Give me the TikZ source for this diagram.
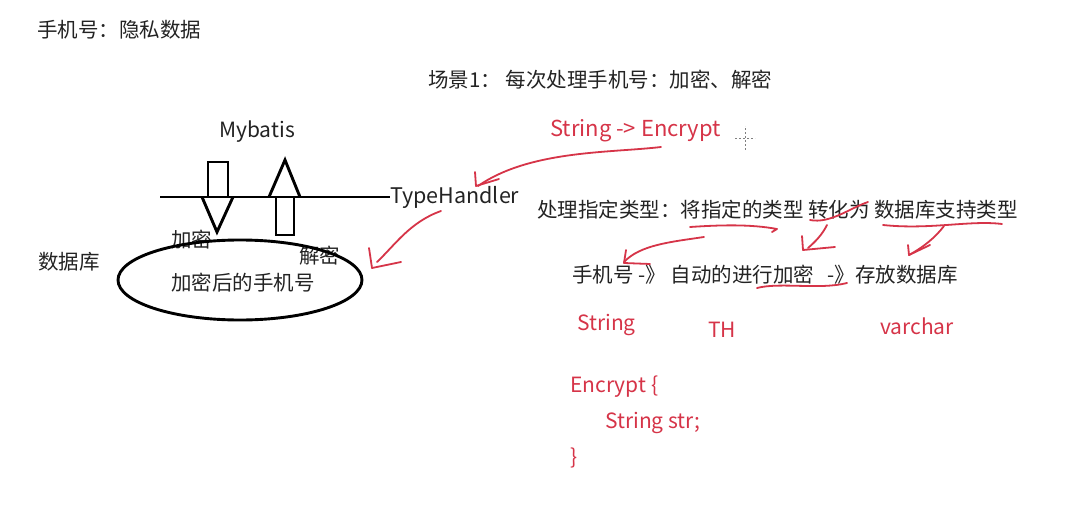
\documentclass[tikz,border=0pt]{standalone}
\usepackage{fontspec}
\usetikzlibrary{shapes.geometric}
\setmainfont{Noto Sans CJK SC}
\definecolor{pen}{RGB}{214,52,72}
\definecolor{ink}{RGB}{35,35,35}
\begin{document}
\begin{tikzpicture}[x=1pt,y=-1pt,
  txt/.style={anchor=west,inner sep=0pt,font=\fontsize{20.5}{24}\selectfont,text=ink},
  rtxt/.style={txt,text=pen,font=\fontsize{21}{24}\selectfont},
  blk/.style={line width=2.9pt,draw=black,line join=miter},
  scrib/.style={draw=pen,line width=1.8pt,line cap=round,line join=round},
  cross/.style={draw=gray,line width=0.8pt,dash pattern=on 2pt off 2pt}]
\useasboundingbox[fill=white] (0,0) rectangle (1084,516);

% texts
\node[txt] (title) at (37,30) {手机号：隐私数据};
\node[txt] (scene) at (428,80) {场景1：\ 每次处理手机号：加密、解密};
\node[txt,anchor=center,font=\fontsize{21}{24}\selectfont] (mybatis) at (257,132) {Mybatis};
\node[txt,font=\fontsize{21.5}{24}\selectfont] (th) at (390,197) {TypeHandler};
\node[txt] (jm) at (171,240) {加密};
\node[txt] (djm) at (299,256) {解密};
\node[txt] (db) at (38,262) {数据库};
\node[draw=black,line width=2.9pt,ellipse,minimum width=244pt,minimum height=80pt,inner sep=0pt] (ell) at (240,280) {};
\node[txt,anchor=center] (enc) at (243,283) {加密后的手机号};

\node[rtxt,font=\fontsize{22}{24}\selectfont] (se) at (550,131) {String -> Encrypt};
\node[txt] (proc) at (537,210) {处理指定类型：将指定的类型 转化为 数据库支持类型};
\node[txt] (flow) at (572,275) {手机号 -》 自动的进行加密 \ \ -》存放数据库};
\node[rtxt] (s1) at (577,325) {String};
\node[rtxt] (th2) at (708,330) {TH};
\node[rtxt] (vc) at (880,326) {varchar};
\node[rtxt] (c1) at (570,387) {Encrypt \{};
\node[rtxt] (c2) at (605,423) {String str;};
\node[rtxt] (c3) at (570,458) {\}};

% cursor cross
\coordinate (cx) at (745,138);
\draw[cross] ([xshift=-10pt]cx) -- ([xshift=10pt]cx);
\draw[cross] ([yshift=-12pt]cx) -- ([yshift=12pt]cx);

% line
\coordinate (l0) at (160,197);
\draw[blk] (l0) -- (th.west);

% down arrow
\draw[blk] (208,197) -- (208,162) -- (228,162) -- (228,197);
\draw[blk] (202,197) -- (217,232) -- (233,197);
% up arrow
\draw[blk] (276,197) -- (276,235) -- (294,235) -- (294,197);
\draw[blk] (269,197) -- (285,160) -- (300,197);

% red scribbles
\coordinate (a1s) at (661,147);
\coordinate (a1e) at (478,186);
\draw[scrib] (a1s) .. controls (610,153) and (530,150) .. (a1e);
\draw[scrib] (475,172) -- (476,186) -- (499,179);

\coordinate (a2s) at (441,211);
\coordinate (a2e) at (377,262);
\draw[scrib] (a2s) .. controls (410,222) and (395,245) .. (a2e);
\draw[scrib] (369,248) -- (372,268) -- (401,262);

% underline 将指定的类型 with hook
\draw[scrib] (690,227) .. controls (720,225) and (750,224) .. (777,229) -- (772,232);
% arrow to 手机号
\draw[scrib] (704,237) .. controls (670,242) and (640,245) .. (624,262);
\draw[scrib] (626,250) -- (624,263) -- (650,264);

% squiggle on 转化
\draw[scrib] (810,220) .. controls (830,224) and (850,208) .. (868,202);
% arrow down-left
\draw[scrib] (827,225) .. controls (822,235) and (815,242) .. (808,248);
\draw[scrib] (802,236) -- (803,250) -- (835,247);

% underline 数据库支持类型
\draw[scrib] (883,225) .. controls (930,230) and (970,220) .. (1002,224);
\draw[scrib] (944,226) .. controls (935,238) and (922,248) .. (909,255);
\draw[scrib] (908,245) -- (909,255) -- (930,245);

% underline 加密
\draw[scrib] (757,288) .. controls (780,282) and (820,290) .. (847,283);
\end{tikzpicture}
\end{document}
